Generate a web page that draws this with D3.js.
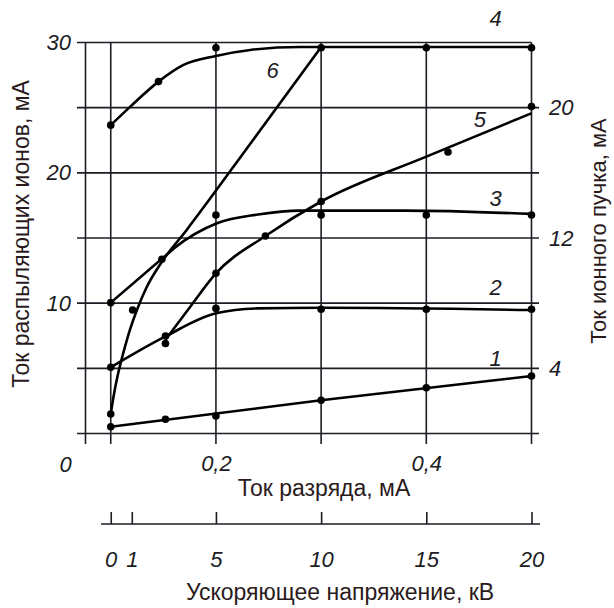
<!DOCTYPE html>
<html>
<head>
<meta charset="utf-8">
<script src="https://cdn.jsdelivr.net/npm/d3@7"></script>
<style>
  body { margin: 0; background: #fff; }
  svg { display: block; font-family: "Liberation Sans", Arial, sans-serif; }
</style>
</head>
<body>
<div id="chart"></div>
<script>
// Tick values
const leftTicks = [10, 20, 30];
const rightTicks = [4, 12, 20];
const gridY = [0, 5, 10, 15, 20, 25, 30];
const gridX = [0, 5, 10, 15, 20];
const dischargeTicks = [0.2, 0.4];
const voltageTicks = [0, 1, 5, 10, 15, 20];

// Curves: [voltage kV, ion current mA (left scale)]
const curve1 = [[0, 0.52], [10, 2.55], [20, 4.41]];
const dots1 = [[0, 0.52], [2.6, 1.09], [5, 1.34], [10, 2.55], [15, 3.51], [20, 4.41]];

const curve2 = [[0, 5.08], [2.6, 7.45], [5, 9.22], [7, 9.6], [10, 9.65], [20, 9.47]];
const dots2 = [[0, 5.08], [2.6, 7.48], [5, 9.6], [10, 9.53], [15, 9.53], [20, 9.53]];

const curve3 = [[0, 10.04], [2.43, 13.4], [3.0, 14.2], [5.05, 16.13], [7, 16.8], [9, 17.1], [14, 17.1], [20, 16.85]];
const dots3 = [[0, 10.04], [2.43, 13.37], [5, 16.76], [10, 16.76], [15, 16.76], [20, 16.76]];

const curve4 = [[0, 23.66], [0.93, 25.08], [2.27, 27.0], [3.46, 28.28], [5, 28.97], [6.63, 29.43], [9, 29.65], [20, 29.65]];
const dots4 = [[0, 23.66], [2.27, 27.0], [5, 29.6], [10, 29.6], [15, 29.6], [20, 29.6]];

const curve5 = [[2.6, 7.2], [3.78, 9.73], [5.01, 12.3], [7.35, 15.15], [10, 17.8], [15, 21.24], [20, 24.57]];
const dots5 = [[2.6, 6.9], [5, 12.3], [7.35, 15.15], [10, 17.8], [16.03, 21.6], [20, 25.08]];

const curve6 = [[0, 1.5], [0.15, 3.0], [0.35, 4.6], [0.6, 6.2], [0.9, 7.9], [1.25, 9.5], [1.7, 11.2], [2.4, 13.1], [3.6, 15.6], [6.8, 22.6], [10, 29.65]];
const dots6 = [[0, 1.5], [1.04, 9.47]];

const curveLabels = [
    { name: "1", x: 18.3, y: 5.8 },
    { name: "2", x: 18.3, y: 11.2 },
    { name: "3", x: 18.3, y: 18.1 },
    { name: "4", x: 18.3, y: 31.9 },
    { name: "5", x: 17.55, y: 24.1 },
    { name: "6", x: 7.7, y: 27.9 }
];

const w = 614, h = 608;
const ink = "#1c1c24";

const x = d3.scaleLinear().domain([-1.2, 20]).range([85.5, 531.5]);
const yLeft = d3.scaleLinear().domain([0, 30]).range([433.5, 42.5]);
const yRight = d3.scaleLinear().domain([0, 24]).range([433.5, 42.5]);
const xDischarge = d3.scaleLinear().domain([0.1, 0.5]).range([x(0), x(20)]);

const svg = d3.select("#chart").append("svg")
    .attr("width", w)
    .attr("height", h);

// grid
svg.selectAll(".hgrid")
    .data(gridY)
    .enter()
    .append("line")
    .attr("x1", 77)
    .attr("x2", function (d) { return d === 30 ? x(20) : 539; })
    .attr("y1", function (d) { return yLeft(d); })
    .attr("y2", function (d) { return yLeft(d); })
    .attr("stroke", ink)
    .attr("stroke-width", 1.6);

svg.selectAll(".vgrid")
    .data([-1.2].concat(gridX))
    .enter()
    .append("line")
    .attr("x1", function (d) { return x(d); })
    .attr("x2", function (d) { return x(d); })
    .attr("y1", yLeft(30))
    .attr("y2", 444)
    .attr("stroke", ink)
    .attr("stroke-width", 1.6);

// curves
const line = d3.line()
    .x(function (d) { return x(d[0]); })
    .y(function (d) { return yLeft(d[1]); })
    .curve(d3.curveMonotoneX);

const curves = [curve1, curve2, curve3, curve4, curve5, curve6];
const dots = [dots1, dots2, dots3, dots4, dots5, dots6];

curves.forEach(function (c) {
    svg.append("path")
        .datum(c)
        .attr("d", line)
        .attr("fill", "none")
        .attr("stroke", "#000")
        .attr("stroke-width", 2.6);
});

dots.forEach(function (ds) {
    svg.append("g").selectAll("circle")
        .data(ds)
        .enter()
        .append("circle")
        .attr("cx", function (d) { return x(d[0]); })
        .attr("cy", function (d) { return yLeft(d[1]); })
        .attr("r", 3.8)
        .attr("fill", "#000");
});

// curve numbers
svg.selectAll(".clabel")
    .data(curveLabels)
    .enter()
    .append("text")
    .attr("x", function (d) { return x(d.x); })
    .attr("y", function (d) { return yLeft(d.y); })
    .attr("dy", "0.36em")
    .attr("text-anchor", "middle")
    .attr("font-size", "22px")
    .attr("font-style", "italic")
    .attr("fill", ink)
    .text(function (d) { return d.name; });

// left axis labels
const leftAxis = svg.append("g")
    .attr("transform", "translate(71,0)")
    .call(d3.axisLeft(yLeft).tickValues(leftTicks).tickSize(0).tickPadding(0));
leftAxis.select(".domain").remove();

// right axis labels
const rightAxis = svg.append("g")
    .attr("transform", "translate(549,0)")
    .call(d3.axisRight(yRight).tickValues(rightTicks).tickSize(0).tickPadding(0));
rightAxis.select(".domain").remove();

// discharge current labels
const dischargeAxis = svg.append("g")
    .attr("transform", "translate(0,448)")
    .call(d3.axisBottom(xDischarge).tickValues(dischargeTicks).tickSize(0).tickPadding(7)
        .tickFormat(function (d) { return String(d).replace(".", ","); }));
dischargeAxis.select(".domain").remove();

svg.append("text")
    .attr("x", x(-1.2) - 20)
    .attr("y", 464)
    .attr("dy", "0.36em")
    .attr("text-anchor", "middle")
    .attr("font-size", "22px")
    .attr("font-style", "italic")
    .attr("fill", ink)
    .text("0");

// voltage axis
svg.append("line")
    .attr("x1", 101)
    .attr("x2", 540)
    .attr("y1", 524)
    .attr("y2", 524)
    .attr("stroke", ink)
    .attr("stroke-width", 1.6);

const voltageAxis = svg.append("g")
    .attr("transform", "translate(0,524)")
    .call(d3.axisBottom(x).tickValues(voltageTicks).tickSize(-12).tickPadding(27).tickSizeOuter(0));
voltageAxis.select(".domain").remove();
voltageAxis.selectAll(".tick line").attr("stroke", ink).attr("stroke-width", 1.6);

[leftAxis, rightAxis, dischargeAxis, voltageAxis].forEach(function (a) {
    a.selectAll("text")
        .attr("font-size", "22px")
        .attr("font-style", "italic")
        .attr("font-family", "'Liberation Sans', Arial, sans-serif")
        .attr("fill", ink);
});

// axis titles
svg.append("text")
    .attr("transform", "translate(29,234) rotate(-90)")
    .attr("text-anchor", "middle")
    .attr("font-size", "23px")
    .attr("fill", "#2a1a1c")
    .text("Ток распыляющих ионов, мА");

svg.append("text")
    .attr("transform", "translate(606,231) rotate(-90)")
    .attr("text-anchor", "middle")
    .attr("font-size", "22px")
    .attr("fill", "#2a1a1c")
    .text("Ток ионного пучка, мА");

svg.append("text")
    .attr("x", 324)
    .attr("y", 496)
    .attr("text-anchor", "middle")
    .attr("font-size", "23px")
    .attr("fill", "#2a1a1c")
    .text("Ток разряда, мА");

svg.append("text")
    .attr("x", 340)
    .attr("y", 600)
    .attr("text-anchor", "middle")
    .attr("font-size", "23px")
    .attr("fill", "#2a1a1c")
    .text("Ускоряющее напряжение, кВ");
</script>
</body>
</html>
